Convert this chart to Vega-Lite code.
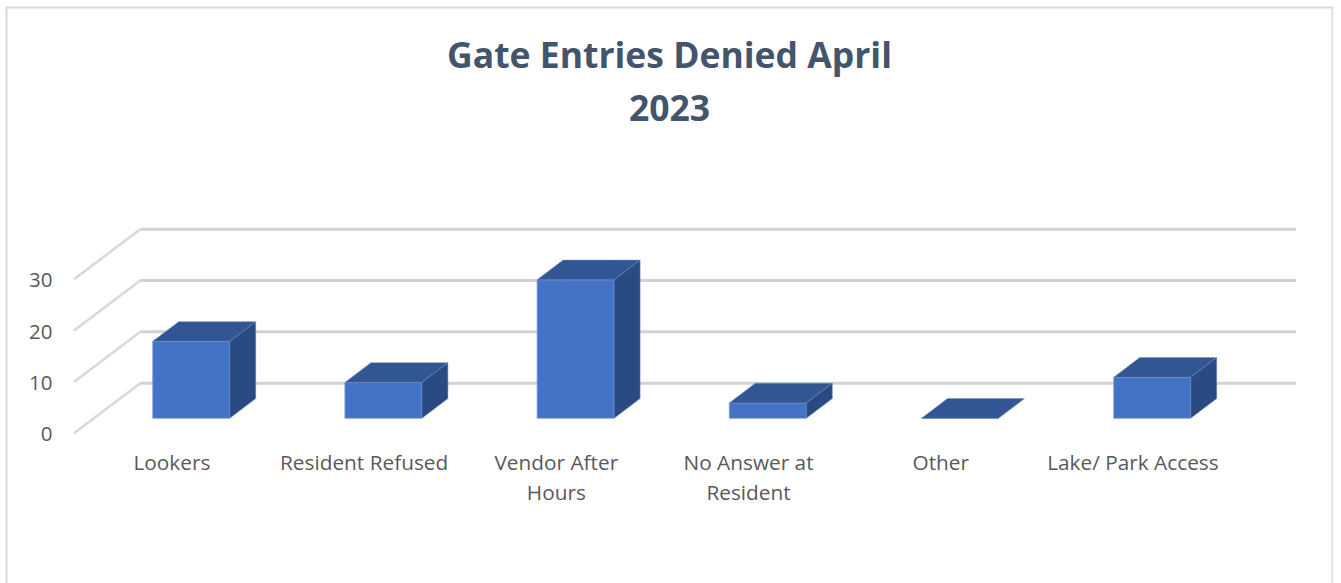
{
"$schema":"https://vega.github.io/schema/vega-lite/v6.json",
"width":1326,"height":580,
"autosize":{"type":"none"},
"padding":{"left":6.5,"top":7.5,"right":0,"bottom":0},
"background":"white",
"view":{"stroke":"#d9d9d9","strokeWidth":2,"fill":"white"},
"title":{"text":["Gate Entries Denied April","2023"],"anchor":"middle","frame":"group","offset":-121,"fontSize":35.5,"fontWeight":"bold","font":"Open Sans","color":"#44546a","lineHeight":53},
"datasets":{
"bars":[
{"category":"Lookers","label":"Lookers","count":15},
{"category":"Resident Refused","label":"Resident Refused","count":7},
{"category":"Vendor After Hours","label":"Vendor After\nHours","count":27},
{"category":"No Answer at Resident","label":"No Answer at\nResident","count":3},
{"category":"Other","label":"Other","count":0},
{"category":"Lake/ Park Access","label":"Lake/ Park Access","count":8}
],
"ticks":[{"tick":0},{"tick":10},{"tick":20},{"tick":30}]
},
"layer":[
{"data":{"name":"ticks"},
 "transform":[{"calculate":"datum.tick+9.75","as":"back"}],
 "mark":{"type":"rule","stroke":"#d9d9d9","strokeWidth":2.5},
 "encoding":{
  "x":{"datum":-0.4095,"type":"quantitative","scale":{"domain":[-0.7607,6.1384],"nice":false,"zero":false},"axis":null},
  "x2":{"datum":-0.0645},
  "y":{"field":"tick","type":"quantitative","scale":{"domain":[-30.08,82.98],"nice":false,"zero":false},
       "axis":{"title":null,"values":[0,10,20,30],"orient":"left","offset":-45.5,"labelPadding":0,"labelOffset":1.5,"ticks":false,"domain":false,"grid":false,"labelFont":"Open Sans","labelFontSize":20.5,"labelColor":"#595959"}},
  "y2":{"field":"back"}
 }},
{"data":{"name":"ticks"},
 "transform":[{"calculate":"datum.tick+9.75","as":"back"}],
 "mark":{"type":"rule","stroke":"#d2d2d2","strokeWidth":3},
 "encoding":{
  "x":{"datum":-0.0645,"type":"quantitative"},
  "x2":{"datum":5.949},
  "y":{"field":"back","type":"quantitative"}
 }},
{"data":{"name":"bars"},
 "transform":[{"window":[{"op":"row_number","as":"n"}]},
  {"calculate":"datum.n-1","as":"left"},{"calculate":"datum.left+0.4006","as":"right"},
  {"calculate":"2.9","as":"base"},{"calculate":"datum.base+datum.count","as":"top"}],
 "mark":{"type":"bar","fill":"#4472c4","stroke":"#7f9fd8","strokeWidth":0.8},
 "encoding":{
  "x":{"field":"left","type":"quantitative"},"x2":{"field":"right"},
  "y":{"field":"base","type":"quantitative"},"y2":{"field":"top"}
 }},
{"data":{"name":"bars"},
 "transform":[{"window":[{"op":"row_number","as":"n"}]},
  {"calculate":"[0,1,2,3]","as":"vertex"},{"flatten":["vertex"]},
  {"calculate":"datum.n-1+[0,0.1353,0.4006,0.5359][datum.vertex]","as":"vx"},
  {"calculate":"2.9+datum.count+[0,0,0,3.84][datum.vertex]","as":"lower"},
  {"calculate":"2.9+datum.count+[0,3.84,3.84,3.84][datum.vertex]","as":"upper"}],
 "mark":{"type":"area","fill":"#325593","stroke":"#6f8cc0","strokeWidth":0.5},
 "encoding":{
  "x":{"field":"vx","type":"quantitative"},
  "y":{"field":"lower","type":"quantitative"},"y2":{"field":"upper"},
  "detail":{"field":"category"}
 }},
{"data":{"name":"bars"},
 "transform":[{"window":[{"op":"row_number","as":"n"}]},
  {"filter":"datum.count>0"},
  {"calculate":"[0,1]","as":"vertex"},{"flatten":["vertex"]},
  {"calculate":"datum.n-1+0.4006+0.1353*datum.vertex","as":"vx"},
  {"calculate":"2.9+3.84*datum.vertex","as":"lower"},
  {"calculate":"datum.lower+datum.count","as":"upper"}],
 "mark":{"type":"area","fill":"#294a83","stroke":"#6f8cc0","strokeWidth":0.5},
 "encoding":{
  "x":{"field":"vx","type":"quantitative"},
  "y":{"field":"lower","type":"quantitative"},"y2":{"field":"upper"},
  "detail":{"field":"category"}
 }},
{"data":{"name":"bars"},
 "transform":[{"window":[{"op":"row_number","as":"n"}]},
  {"calculate":"datum.n-1+0.1","as":"lx"},{"calculate":"-4.1","as":"ly"}],
 "mark":{"type":"text","font":"Open Sans","fontSize":20.8,"color":"#595959","baseline":"top","align":"center","lineBreak":"\n","lineHeight":30},
 "encoding":{
  "x":{"field":"lx","type":"quantitative"},
  "y":{"field":"ly","type":"quantitative"},
  "text":{"field":"label"}
 }}
]
}
